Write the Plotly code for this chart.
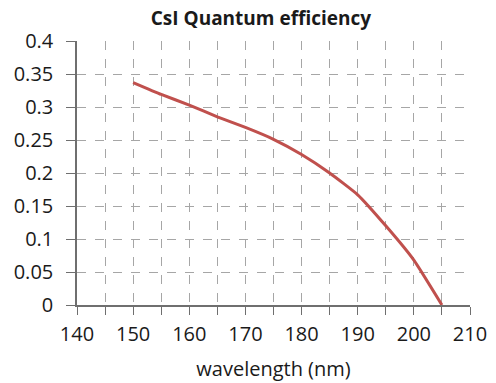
import plotly.graph_objects as go

wavelength = [150, 155, 160, 165, 170, 175, 180, 185, 190, 195, 200, 205]
efficiency = [0.337, 0.319, 0.303, 0.285, 0.269, 0.251, 0.228, 0.200, 0.167, 0.120, 0.068, 0.0]

x_ticks = [140, 150, 160, 170, 180, 190, 200, 210]
y_ticks = [0, 0.05, 0.1, 0.15, 0.2, 0.25, 0.3, 0.35, 0.4]
y_labels = ["0", "0.05", "0.1", "0.15", "0.2", "0.25", "0.3", "0.35", "0.4"]

fig = go.Figure()
fig.add_trace(go.Scatter(x=wavelength, y=efficiency, mode="lines",
                         line=dict(color="#C0504D", width=3, shape="spline", smoothing=0.4),
                         showlegend=False))

grid_col = "#A6A6A6"
axis_col = "#6f6f6f"
fig.update_layout(
    width=496, height=383,
    margin=dict(l=77, r=26, t=41, b=78),
    paper_bgcolor="white", plot_bgcolor="white",
    font=dict(family="Open Sans", color="#1a1a1a"),
    title=dict(text="<b>CsI Quantum efficiency</b>", x=0.526, xanchor="center",
               y=0.953, yanchor="middle", font=dict(size=19, color="#1a1a1a")),
    xaxis=dict(range=[140, 210], tickvals=x_ticks, ticktext=[str(v) for v in x_ticks],
               tickfont=dict(size=20), ticks="outside", ticklen=8, tickcolor=axis_col,
               ticklabelstandoff=2, automargin=False,
               showline=True, linecolor=axis_col, linewidth=1.5,
               showgrid=True, gridcolor=grid_col, griddash="dash", gridwidth=1,
               minor=dict(dtick=5, showgrid=True, gridcolor=grid_col, griddash="dash",
                          ticks="outside", ticklen=8, tickcolor=axis_col),
               title=dict(text="wavelength (nm)", font=dict(size=20), standoff=16),
               zeroline=False),
    yaxis=dict(range=[0, 0.4], tickvals=y_ticks, ticktext=y_labels,
               tickfont=dict(size=20), ticks="outside", ticklen=9, tickcolor=axis_col,
               ticklabelstandoff=9, automargin=False,
               showline=True, linecolor=axis_col, linewidth=1.5,
               showgrid=True, gridcolor=grid_col, griddash="dash", gridwidth=1.2,
               zeroline=False),
)
fig.write_html("out.html")
